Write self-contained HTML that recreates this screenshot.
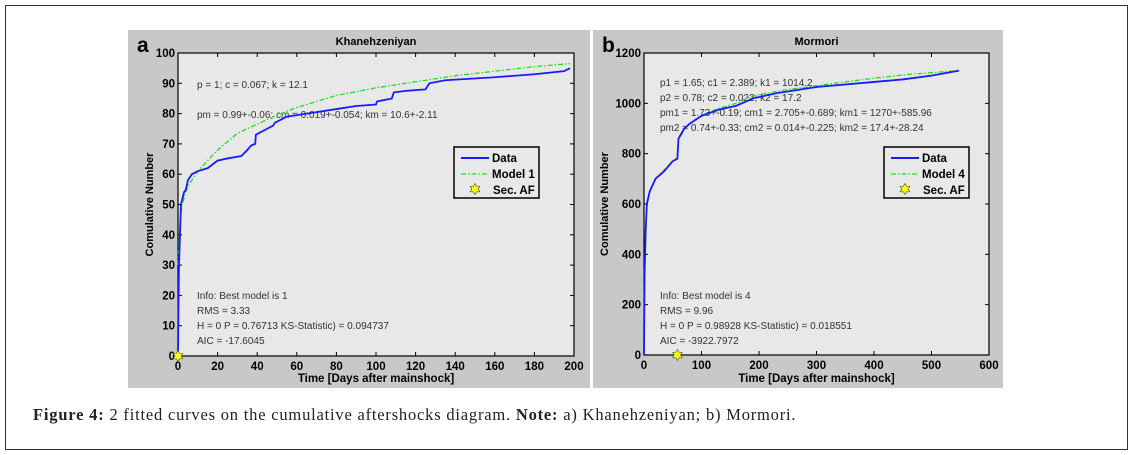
<!DOCTYPE html>
<html><head><meta charset="utf-8"><style>
body{margin:0;background:#fff;width:1133px;height:455px;overflow:hidden;font-family:"Liberation Sans",Arial,sans-serif}
svg{position:absolute;left:0;top:0}
.cap{position:absolute;left:33px;top:405px;font-family:"Liberation Serif",serif;font-size:16.5px;letter-spacing:0.8px;color:#222}
</style></head><body>
<div style="position:absolute;left:5px;top:5px;width:1121px;height:443px;border:1px solid #333"></div>
<svg id="s" width="1133" height="455"></svg>
<div class="cap"><b>Figure 4:</b> 2 fitted curves on the cumulative aftershocks diagram. <b>Note:</b> a) Khanehzeniyan; b) Mormori.</div>
<script>
// Panel a data
const aDataT=[0,0.3,0.5,1,1.5,3,4,5,7,10,15,17,20,25,32,35,37,39,39.3,45,48,49,55,60,70,80,90,100,100.5,108,109,115,125,127,135,160,180,195,198];
const aDataN=[0,20,30,40,50,54,55,58,60,61,62,63,64.5,65.2,66,68,69.5,70,73,75,76,77,79,79.5,80.5,81.5,82.5,83,84,85,87,87.5,88,90,91,92,93,94,95];
const aModelT=[0.1,0.3,1,2,5,10,20,30,40,50,60,80,100,120,140,160,180,198];
const aModelN=[30,35,44,50,56,61,68,73.5,76.5,79.5,82,86,88.5,90.5,92.5,94,95.5,96.5];
const aStarT=[0],aStarN=[0];
const aXTicks=[0,20,40,60,80,100,120,140,160,180,200];
const aYTicks=[0,10,20,30,40,50,60,70,80,90,100];
// Panel b data
const bDataT=[0,1,3,5,10,20,35,50,58,60,70,80,100,130,160,190,230,300,400,450,500,548];
const bDataN=[0,320,500,600,650,700,730,770,780,860,900,920,950,975,990,1020,1040,1065,1085,1095,1110,1130];
const bModelT=[1,3,5,10,20,35,50,58,60,70,80,100,130,160,190,250,300,400,460,548];
const bModelN=[330,510,605,655,702,735,772,782,855,895,920,952,980,1000,1030,1055,1070,1100,1115,1130];
const bStarT=[58],bStarN=[0];
const bXTicks=[0,100,200,300,400,500,600];
const bYTicks=[0,200,400,600,800,1000,1200];

const S=document.getElementById('s');const NS='http://www.w3.org/2000/svg';
function el(t,a,p){const e=document.createElementNS(NS,t);for(const k in a)e.setAttribute(k,a[k]);(p||S).appendChild(e);return e;}
function txt(x,y,s,a,p){const e=el('text',Object.assign({x:x,y:y},a),p);e.textContent=s;return e;}
function panel(o){
  const g=el('g',{});
  
  
  const bg=el('rect',{x:o.bx,y:30,width:o.bw,height:358,fill:'#c8c8c8'},g);
  
  const X=v=>o.x0+(v-o.xmin)/(o.xmax-o.xmin)*(o.x1-o.x0);
  const Y=v=>o.y1-(v-o.ymin)/(o.ymax-o.ymin)*(o.y1-o.y0);
  const pa=el('rect',{x:o.x0,y:o.y0,width:o.x1-o.x0,height:o.y1-o.y0,fill:'#e8e8e8',stroke:'#000','stroke-width':1.2},g);
  
  o.xt.forEach(v=>{const x=X(v);el('line',{x1:x,x2:x,y1:o.y1,y2:o.y1-4,stroke:'#000'},g);el('line',{x1:x,x2:x,y1:o.y0,y2:o.y0+4,stroke:'#000'},g);
    const t=txt(x,o.y1+14,v,{'font-size':11.5,'font-weight':'bold','text-anchor':'middle'},g);});
  o.yt.forEach(v=>{const y=Y(v);el('line',{x1:o.x0,x2:o.x0+4,y1:y,y2:y,stroke:'#000'},g);el('line',{x1:o.x1,x2:o.x1-4,y1:y,y2:y,stroke:'#000'},g);
    const t=txt(o.x0-3,y+4,v,{'font-size':11.5,'font-weight':'bold','text-anchor':'end'},g);});
  let t=txt((o.x0+o.x1)/2,45,o.title,{'font-size':11,'font-weight':'bold','text-anchor':'middle'},g);
  t=txt(o.bx+9,52,o.letter,{'font-size':21,'font-weight':'bold'},g);
  t=txt((o.x0+o.x1)/2,382,'Time [Days after mainshock]',{'font-size':11.5,'font-weight':'bold','text-anchor':'middle'},g);
  const yl=o.x0-o.ylOff;t=txt(yl,(o.y0+o.y1)/2,'Comulative Number',{'font-size':11,'font-weight':'bold','text-anchor':'middle',transform:`rotate(-90 ${yl} ${(o.y0+o.y1)/2})`},g);
  o.notes.forEach((s,i)=>{const n=txt(o.nx,o.ny[i],s,{'font-size':10,fill:'#333'},g);});
  const mp=el('polyline',{points:o.mt.map((v,i)=>X(v)+','+Y(o.mn[i])).join(' '),fill:'none',stroke:'#22dd22','stroke-width':1.3,'stroke-dasharray':'5 2 1.5 2'},g);
  
  const dp=el('polyline',{points:o.dt.map((v,i)=>X(v)+','+Y(o.dn[i])).join(' '),fill:'none',stroke:'#1a1aff','stroke-width':1.8},g);
  
  o.st.forEach((v,i)=>{const s=star(X(v),Y(o.sn[i]),g);});
  const L=el('g',{},g);
  el('rect',{x:o.lx,y:147,width:85,height:51,fill:'#e8e8e8',stroke:'#000','stroke-width':1.5},L);
  el('line',{x1:o.lx+7,x2:o.lx+35,y1:158,y2:158,stroke:'#1a1aff','stroke-width':2},L);
  el('line',{x1:o.lx+7,x2:o.lx+35,y1:174,y2:174,stroke:'#22dd22','stroke-width':1.3,'stroke-dasharray':'5 2 1.5 2'},L);
  star(o.lx+21,189,L);
  let e=txt(o.lx+38,162,'Data',{'font-size':11.5,'font-weight':'bold'},L);
  e=txt(o.lx+38,178,o.model,{'font-size':11.5,'font-weight':'bold'},L);
  e=txt(o.lx+39,194,'Sec. AF',{'font-size':11.5,'font-weight':'bold'},L);
}
function star(x,y,p){let pts=[];for(let i=0;i<12;i++){const r=i%2?3.2:5.5,a=Math.PI/6*i-Math.PI/2;pts.push((x+r*Math.cos(a)).toFixed(1)+','+(y+r*Math.sin(a)).toFixed(1));}
  return el('polygon',{points:pts.join(' '),fill:'#ffff00',stroke:'#555','stroke-width':0.7},p);}
panel({name:'panel-a-khanehzeniyan',bx:128,bw:462,x0:178,x1:574,y0:53,y1:356,xmin:0,xmax:200,ymin:0,ymax:100,xt:aXTicks,yt:aYTicks,
  title:'Khanehzeniyan',letter:'a',ylOff:25,model:'Model 1',lx:454,nx:197,ny:[88,118,299,314,329,344],
  notes:['p = 1; c = 0.067; k = 12.1','pm = 0.99+-0.06; cm = 0.019+-0.054; km = 10.6+-2.11','Info: Best model is 1','RMS = 3.33','H = 0 P = 0.76713 KS-Statistic) = 0.094737','AIC = -17.6045'],
  dt:aDataT,dn:aDataN,mt:aModelT,mn:aModelN,st:aStarT,sn:aStarN});
panel({name:'panel-b-mormori',bx:593,bw:410,x0:644,x1:989,y0:53,y1:355,xmin:0,xmax:600,ymin:0,ymax:1200,xt:bXTicks,yt:bYTicks,
  title:'Mormori',letter:'b',ylOff:36,model:'Model 4',lx:884,nx:660,ny:[86,101,116,131,299,314,329,344],
  notes:['p1 = 1.65; c1 = 2.389; k1 = 1014.2','p2 = 0.78; c2 = 0.022; k2 = 17.2','pm1 = 1.73+-0.19; cm1 = 2.705+-0.689; km1 = 1270+-585.96','pm2 = 0.74+-0.33; cm2 = 0.014+-0.225; km2 = 17.4+-28.24','Info: Best model is 4','RMS = 9.96','H = 0 P = 0.98928 KS-Statistic) = 0.018551','AIC = -3922.7972'],
  dt:bDataT,dn:bDataN,mt:bModelT,mn:bModelN,st:bStarT,sn:bStarN});
</script>
</body></html>
